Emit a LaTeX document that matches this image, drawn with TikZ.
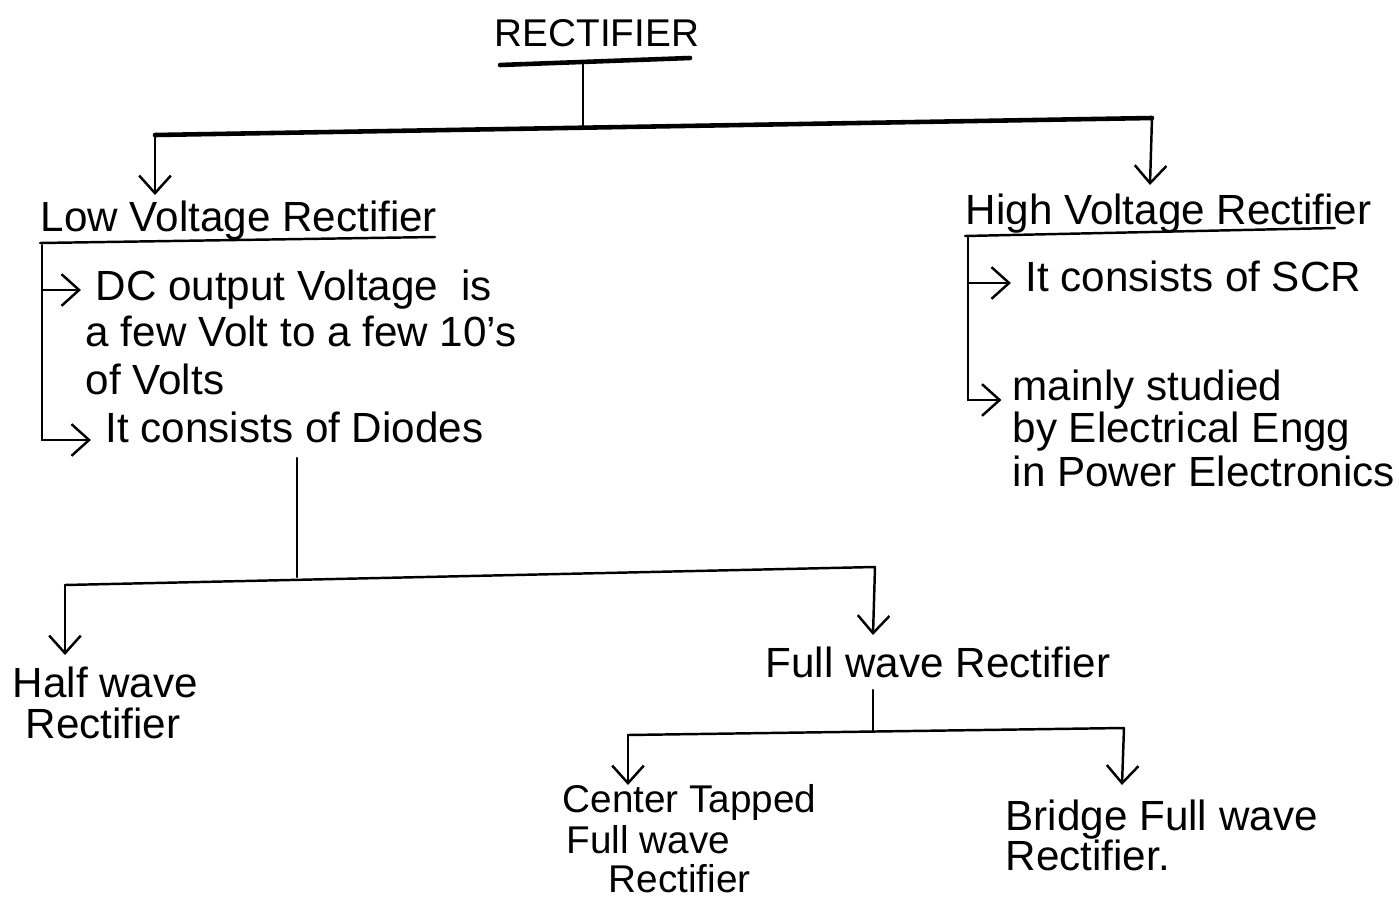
\documentclass[tikz,border=0pt]{standalone}
\usepackage{fontspec}
\setmainfont{Liberation Sans}
\usetikzlibrary{arrows.meta}
\begin{document}
\begin{tikzpicture}[x=0.01cm,y=-0.01cm,
  lbl/.style={anchor=base west,inner sep=0pt,font=\fontsize{12}{14}\selectfont},
  small/.style={font=\fontsize{11}{13}\selectfont},
  ln/.style={line width=0.7pt,line cap=round},
  bar/.style={line width=1.3pt,line cap=round},
  arr/.style={ln,-{Straight Barb[length=5pt,width=9pt]}}]
\useasboundingbox (0,0) rectangle (1399,900);
% ---- root
\node[anchor=base,inner sep=0pt,font=\fontsize{11}{13}\selectfont] (root) at (597,46) {RECTIFIER};
\coordinate (rootUL) at (500,65);
\coordinate (rootUR) at (690,58);
\draw[bar] (rootUL) -- (rootUR);
\coordinate (rootT) at (583,62);
\coordinate (rootB) at (583,127);
\draw[ln] (rootT) -- (rootB);
\coordinate (barL) at (155,135);
\coordinate (barR) at (1152,118);
\draw[bar] (barL) -- (barR);
\coordinate (lowTop) at (155,195);
\coordinate (highTop) at (1150,185);
\draw[arr] (barL) -- (lowTop);
\draw[arr] (barR) -- (highTop);
% ---- low voltage
\node[lbl] (low) at (40,231) {Low Voltage Rectifier};
\coordinate (lowUL) at (40,243);
\coordinate (lowUR) at (435,237);
\draw[ln] (lowUL) -- (lowUR);
\node[lbl] (lowA) at (95,300) {DC output Voltage\ \ is};
\node[lbl] (lowA2) at (85,346) {a few Volt to a few 10's};
\node[lbl] (lowA3) at (85,394) {of Volts};
\node[lbl] (lowB) at (105,442) {It consists of Diodes};
\coordinate (lbT) at (42,245);
\coordinate (lbB) at (42,440);
\coordinate (lbA) at (42,290);
\draw[ln] (lbT) -- (lbB);
\draw[arr] (lbA) -- ([xshift=-4pt]lowA.west |- lbA);
\draw[arr] (lbB) -- ([xshift=-4pt]lowB.west |- lbB);
% ---- high voltage
\node[lbl] (high) at (965,224) {High Voltage Rectifier};
\coordinate (highUL) at (965,236);
\coordinate (highUR) at (1335,228);
\draw[ln] (highUL) -- (highUR);
\node[lbl] (highA) at (1025,291) {It consists of SCR};
\node[lbl] (highB) at (1012,400) {mainly studied};
\node[lbl] (highB2) at (1012,442) {by Electrical Engg};
\node[lbl] (highB3) at (1012,486) {in Power Electronics};
\coordinate (hbT) at (968,237);
\coordinate (hbB) at (968,400);
\coordinate (hbA) at (968,283);
\draw[ln] (hbT) -- (hbB);
\draw[arr] (hbA) -- ([xshift=-4pt]highA.west |- hbA);
\draw[arr] (hbB) -- ([xshift=-3pt]highB.west |- hbB);
% ---- diodes branch
\coordinate (dT) at (297,458);
\coordinate (dB) at (297,577);
\draw[ln] (dT) -- (dB);
\coordinate (dL) at (65,585);
\coordinate (dR) at (875,567);
\draw[ln] (dL) -- (dR);
\coordinate (halfTop) at (65,655);
\coordinate (fullTop) at (873,635);
\draw[arr] (dL) -- (halfTop);
\draw[arr] (dR) -- (fullTop);
\node[lbl] (half) at (12,697) {Half wave};
\node[lbl] (half2) at (25,738) {Rectifier};
\node[lbl] (full) at (765,677) {Full wave Rectifier};
% ---- full wave branch
\coordinate (fT) at (873,690);
\coordinate (fB) at (873,731);
\draw[ln] (fT) -- (fB);
\coordinate (fL) at (628,735);
\coordinate (fR) at (1124,728);
\draw[ln] (fL) -- (fR);
\coordinate (ctTop) at (628,785);
\coordinate (brTop) at (1122,785);
\draw[arr] (fL) -- (ctTop);
\draw[arr] (fR) -- (brTop);
\node[lbl,small] (ct) at (562,812) {Center Tapped};
\node[lbl,small] (ct2) at (566,853) {Full wave};
\node[lbl,small] (ct3) at (608,892) {Rectifier};
\node[lbl] (br) at (1005,830) {Bridge Full wave};
\node[lbl] (br2) at (1005,870) {Rectifier.};
\end{tikzpicture}
\end{document}
